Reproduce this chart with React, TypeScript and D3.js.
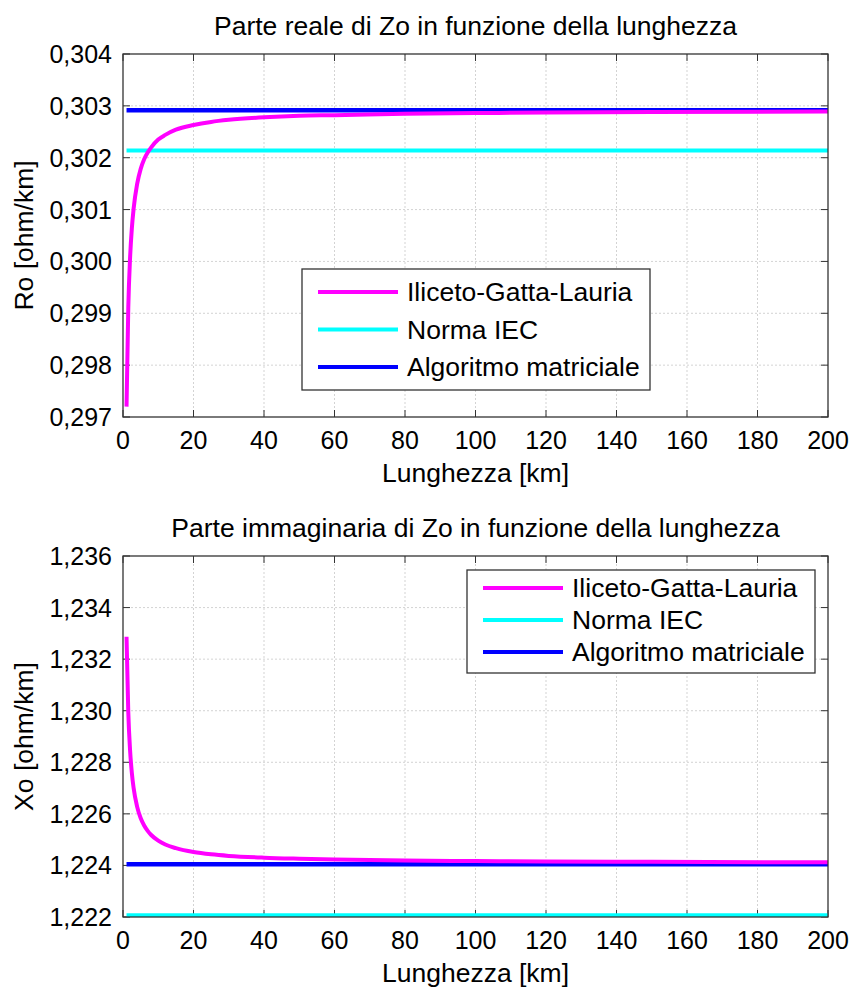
import React, { useEffect, useRef } from "react";
import * as d3 from "d3";

// lunghezza [km]
const lengths = [1, 1.5, 2, 2.5, 3, 4, 5, 6, 7, 8, 10, 12, 15, 20, 25, 30, 40, 50, 60, 80, 100, 120, 150, 200];

// parte reale Ro [ohm/km]
const roIGL = [0.29720, 0.29911, 0.30006, 0.30063, 0.30101, 0.30149, 0.30178, 0.30197, 0.30210, 0.30220, 0.30235, 0.30244,
  0.30254, 0.30263, 0.30269, 0.30273, 0.30278, 0.30281, 0.30282, 0.30285, 0.30286, 0.30287, 0.30288, 0.30289];
const roIEC = 0.302141;
const roMatrix = 0.302917;

// parte immaginaria Xo [ohm/km]
const xoIGL = [1.23287, 1.22994, 1.22848, 1.22760, 1.22701, 1.22628, 1.22584, 1.22555, 1.22534, 1.22518, 1.22496, 1.22481,
  1.22467, 1.22452, 1.22443, 1.22437, 1.22430, 1.22426, 1.22423, 1.22419, 1.22417, 1.22415, 1.22414, 1.22412];
const xoIEC = 1.22207;
const xoMatrix = 1.22405;

const xTicks = [0, 20, 40, 60, 80, 100, 120, 140, 160, 180, 200];
const roTicks = [0.297, 0.298, 0.299, 0.300, 0.301, 0.302, 0.303, 0.304];
const xoTicks = [1.222, 1.224, 1.226, 1.228, 1.230, 1.232, 1.234, 1.236];

const seriesNames = ["Iliceto-Gatta-Lauria", "Norma IEC", "Algoritmo matriciale"];
const seriesColors = ["#ff00ff", "#00ffff", "#0000ff"];

const FONT = "'Liberation Sans', Arial, Helvetica, sans-serif";

function App() {
  const chartRef = useRef<SVGSVGElement | null>(null);

  useEffect(() => {
    drawChart();
  }, []);

  const drawPanel = (svg: any, opts: any) => {
    const { left, right, top, bottom, ticks, curve, iec, matrix, title, ylabel, legend } = opts;

    const x = d3.scaleLinear().domain([0, 200]).range([left, right]);
    const y = d3.scaleLinear().domain([ticks[0], ticks[ticks.length - 1]]).range([bottom, top]);
    const fmt = (v: number) => d3.format(".3f")(v).replace(".", ",");

    const g = svg.append("g");

    // grid
    g.selectAll(".gx").data(xTicks.slice(1, -1)).enter().append("line")
      .attr("x1", (d: number) => x(d)).attr("x2", (d: number) => x(d))
      .attr("y1", top).attr("y2", bottom)
      .attr("stroke", "#c8c8c8").attr("stroke-width", 0.8).attr("stroke-dasharray", "2,2");
    g.selectAll(".gy").data(ticks.slice(1, -1)).enter().append("line")
      .attr("y1", (d: number) => y(d)).attr("y2", (d: number) => y(d))
      .attr("x1", left).attr("x2", right)
      .attr("stroke", "#c8c8c8").attr("stroke-width", 0.8).attr("stroke-dasharray", "2,2");

    // tick marks (inside, all four sides)
    const tl = 7;
    xTicks.forEach((t) => {
      g.append("line").attr("x1", x(t)).attr("x2", x(t)).attr("y1", bottom).attr("y2", bottom - tl).attr("stroke", "#333");
      g.append("line").attr("x1", x(t)).attr("x2", x(t)).attr("y1", top).attr("y2", top + tl).attr("stroke", "#333");
    });
    ticks.forEach((t: number) => {
      g.append("line").attr("y1", y(t)).attr("y2", y(t)).attr("x1", left).attr("x2", left + tl).attr("stroke", "#333");
      g.append("line").attr("y1", y(t)).attr("y2", y(t)).attr("x1", right).attr("x2", right - tl).attr("stroke", "#333");
    });

    // tick labels
    g.selectAll(".xl").data(xTicks).enter().append("text")
      .attr("x", (d: number) => x(d)).attr("y", bottom + 32)
      .attr("text-anchor", "middle")
      .style("font-size", "25px").style("font-family", FONT).attr("fill", "#000")
      .text((d: number) => d);
    g.selectAll(".yl").data(ticks).enter().append("text")
      .attr("x", left - 11).attr("y", (d: number) => y(d) + 9)
      .attr("text-anchor", "end")
      .style("font-size", "25px").style("font-family", FONT).attr("fill", "#000")
      .text((d: number) => fmt(d));

    // lines
    const clipId = "clip" + Math.round(top);
    svg.append("clipPath").attr("id", clipId).append("rect")
      .attr("x", left).attr("y", top).attr("width", right - left).attr("height", bottom - top);
    const lines = svg.append("g").attr("clip-path", `url(#${clipId})`);

    lines.append("line")
      .attr("x1", x(1)).attr("x2", x(200)).attr("y1", y(iec)).attr("y2", y(iec))
      .attr("stroke", seriesColors[1]).attr("stroke-width", 4);
    lines.append("line")
      .attr("x1", x(1)).attr("x2", x(200)).attr("y1", y(matrix)).attr("y2", y(matrix))
      .attr("stroke", seriesColors[2]).attr("stroke-width", 4.5);

    const line = d3.line<number>()
      .x((d, i) => x(lengths[i]))
      .y((d) => y(d))
      .curve(d3.curveMonotoneX);
    lines.append("path")
      .attr("d", line(curve))
      .attr("fill", "none")
      .attr("stroke", seriesColors[0]).attr("stroke-width", 4);

    // frame
    svg.append("rect").attr("x", left).attr("y", top).attr("width", right - left).attr("height", bottom - top)
      .attr("fill", "none").attr("stroke", "#333").attr("stroke-width", 1.3);

    // title & labels
    svg.append("text")
      .attr("x", (left + right) / 2).attr("y", top - 19)
      .attr("text-anchor", "middle")
      .style("font-size", "26.5px").style("font-family", FONT)
      .text(title);
    svg.append("text")
      .attr("x", (left + right) / 2).attr("y", bottom + 65)
      .attr("text-anchor", "middle")
      .style("font-size", "26.5px").style("font-family", FONT)
      .text("Lunghezza [km]");
    svg.append("text")
      .attr("transform", `translate(${left - 90},${(top + bottom) / 2}) rotate(-90)`)
      .attr("text-anchor", "middle")
      .style("font-size", "26.5px").style("font-family", FONT)
      .text(ylabel);

    // legend
    const lg = svg.append("g");
    lg.append("rect")
      .attr("x", legend.x).attr("y", legend.y).attr("width", legend.w).attr("height", legend.h)
      .attr("fill", "#fff").attr("stroke", "#333").attr("stroke-width", 1.3);
    seriesNames.forEach((name, i) => {
      const yy = legend.y + legend.first + i * legend.step;
      lg.append("line")
        .attr("x1", legend.x + 16).attr("x2", legend.x + 96)
        .attr("y1", yy).attr("y2", yy)
        .attr("stroke", seriesColors[i]).attr("stroke-width", 4);
      lg.append("text")
        .attr("x", legend.x + legend.tx).attr("y", yy + 9)
        .style("font-size", "26.5px").style("font-family", FONT)
        .text(name);
    });
  };

  const drawChart = () => {
    d3.select(chartRef.current).selectAll("*").remove();
    const svg = d3.select(chartRef.current);

    drawPanel(svg, {
      left: 123, right: 828, top: 54, bottom: 417,
      ticks: roTicks, curve: roIGL, iec: roIEC, matrix: roMatrix,
      title: "Parte reale di Zo in funzione della lunghezza",
      ylabel: "Ro [ohm/km]",
      legend: { x: 302, y: 269, w: 348, h: 121, first: 23, step: 37.5, tx: 105 },
    });

    drawPanel(svg, {
      left: 123, right: 828, top: 556, bottom: 917,
      ticks: xoTicks, curve: xoIGL, iec: xoIEC, matrix: xoMatrix,
      title: "Parte immaginaria di Zo in funzione della lunghezza",
      ylabel: "Xo [ohm/km]",
      legend: { x: 467, y: 570, w: 348, h: 103, first: 18, step: 32, tx: 105 },
    });
  };

  return (
    <svg
      ref={chartRef}
      width={854}
      height={989}
      style={{ position: "absolute", left: 0, top: 0, background: "#fff" }}
    />
  );
}

export default App;
